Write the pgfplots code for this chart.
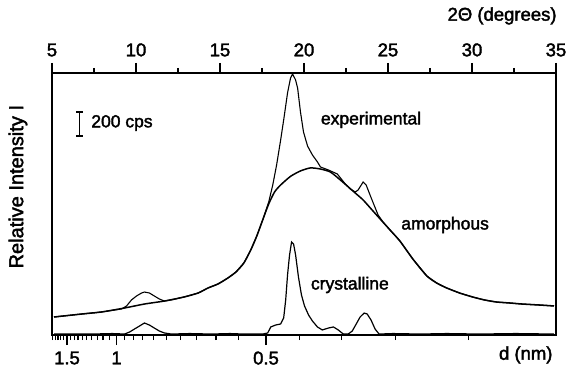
\documentclass[border=0pt]{standalone}
\usepackage{fontspec}
\setmainfont{Liberation Sans}[FakeBold=2]
\usepackage{pgfplots}
\usepackage{pgfplotstable}
\pgfplotsset{compat=1.18}

% Diffraction intensities, 2theta in degrees, intensity in cps
\pgfplotstableread{
tt     I
5.12   150
6.78   175
7.96   192
9.32   225
10.50  258
11.69  283
12.87  317
13.70  350
14.29  392
14.88  425
15.47  475
15.95  525
16.42  600
16.83  708
17.19  825
17.54  958
17.90  1092
18.25  1192
18.61  1250
19.20  1322
19.79  1367
20.38  1392
20.98  1383
21.57  1358
22.16  1292
22.57  1242
23.05  1183
23.52  1125
24.05  1042
24.53  967
25.12  875
25.71  783
26.48  633
27.31  492
27.90  433
28.49  392
29.26  350
30.03  317
30.74  292
31.45  275
32.22  267
32.99  258
34.00  250
34.88  242
}\amorphous

\pgfplotstableread{
tt     I
5.12   150
6.78   175
7.96   192
9.14   217
9.44   242
9.73   292
10.03  325
10.33  350
10.50  358
10.80  350
11.09  325
11.39  300
11.69  283
12.10  292
12.87  317
13.70  350
14.29  392
14.88  425
15.47  475
15.95  525
16.42  600
16.83  708
17.19  825
17.54  958
17.90  1108
18.14  1250
18.37  1417
18.61  1625
18.79  1792
19.02  2017
19.20  2142
19.32  2175
19.50  2125
19.62  2058
19.79  1858
19.97  1692
20.21  1575
20.50  1500
20.80  1442
20.98  1400
21.45  1375
21.98  1342
22.46  1258
22.75  1217
23.05  1192
23.22  1208
23.52  1275
23.70  1250
23.93  1167
24.17  1083
24.41  1000
24.70  942
25.12  875
25.71  783
26.48  633
27.31  492
27.90  433
28.49  392
29.26  350
30.03  317
30.74  292
31.45  275
32.22  267
32.99  258
34.00  250
34.88  242
}\experimental

\pgfplotstableread{
tt     I
5.12   8
7.37   8
8.60   12
9.32   8
9.62   25
9.91   50
10.21  75
10.50  100
10.80  83
11.09  58
11.39  33
11.69  17
12.10  8
13.20  12
14.47  8
15.60  12
16.40  8
17.54  8
17.84  17
18.02  67
18.31  83
18.61  92
18.79  142
18.91  292
19.02  500
19.14  667
19.26  775
19.38  758
19.50  667
19.67  483
19.85  333
20.03  242
20.27  167
20.50  117
20.80  67
21.09  42
21.45  58
21.75  67
22.04  42
22.34  8
22.63  8
22.87  33
23.11  92
23.34  150
23.58  183
23.76  175
23.99  125
24.23  50
24.47  8
25.30  12
26.89  8
28.50  12
30.44  8
32.60  12
34.88  8
}\crystalline

\begin{document}
\begin{tikzpicture}
\useasboundingbox (-52pt,-34pt) rectangle (525pt,335pt);
% main frame with the 2theta scale on top
\begin{axis}[
  at={(0pt,0pt)}, anchor=south west,
  width=504pt, height=262pt, scale only axis,
  xmin=5, xmax=35, ymin=0, ymax=2183,
  clip=false,
  axis line style={line width=1.6pt},
  xtick={5,10,...,35},
  minor xtick={7.5,12.5,17.5,22.5,27.5,32.5},
  xtick pos=right, xticklabel pos=right,
  tick align=outside,
  major tick length=10pt, minor tick length=5pt,
  every tick/.style={black, line width=1.1pt},
  ytick=\empty,
  /pgf/number format/assume math mode=true,
  tick label style={font=\fontsize{18.5}{21}\selectfont},
  xticklabel style={yshift=3pt},
]
\addplot[black, line width=1.5pt, smooth, tension=0.4] table[x=tt, y=I] {\amorphous};
\addplot[black, line width=1.1pt] table[x=tt, y=I] {\experimental};
\addplot[black, line width=1.2pt] table[x=tt, y=I] {\crystalline};

% 200 cps scale bar
\draw[line width=1.2pt] (axis cs:6.66,1658) -- (axis cs:6.66,1858);
\draw[line width=1.2pt] ([xshift=-3.5pt]axis cs:6.66,1658) -- ([xshift=3.5pt]axis cs:6.66,1658);
\draw[line width=1.2pt] ([xshift=-3.5pt]axis cs:6.66,1858) -- ([xshift=3.5pt]axis cs:6.66,1858);

\begin{scope}[font=\fontsize{17.5}{20}\selectfont]
\node[anchor=west] at (axis description cs:0.071,0.809) {200 cps};
\node at (axis description cs:0.633,0.821) {experimental};
\node at (axis description cs:0.780,0.420) {amorphous};
\node at (axis description cs:0.591,0.191) {crystalline};
\end{scope}
\begin{scope}[font=\fontsize{18.5}{21}\selectfont]
\node at (axis description cs:0.893,1.218) {2Θ (degrees)};
\node at (axis description cs:0.940,-0.076) {d (nm)};
\end{scope}
\node[rotate=90, font=\fontsize{20}{23}\selectfont] at (axis description cs:-0.0675,0.566) {Relative Intensity I};
\end{axis}

% d-spacing scale (Cu K-alpha) along the bottom
\begin{axis}[
  at={(0pt,0pt)}, anchor=south west,
  width=504pt, height=262pt, scale only axis,
  xmin=5, xmax=35, ymin=0, ymax=1,
  hide y axis,
  axis x line*=bottom,
  axis line style={-, line width=1.6pt},
  xtick={5.892,8.843,17.739},
  xticklabels={1.5,1,0.5},
  minor xtick={5.05,5.199,5.356,5.523,5.702,6.095,6.313,6.547,6.799,7.071,7.366,7.687,8.036,8.420,9.309,9.827,10.407,11.059,11.799,12.645,13.622,14.764,16.115,19.728,22.224,25.448,29.78},
  xtick pos=left, xticklabel pos=left,
  tick align=outside,
  major tick length=10pt, minor tick length=5pt,
  every tick/.style={black, line width=1.1pt},
  tick label style={font=\fontsize{18.5}{21}\selectfont},
  xticklabel style={yshift=-3pt},
]
\end{axis}
\end{tikzpicture}
\end{document}
